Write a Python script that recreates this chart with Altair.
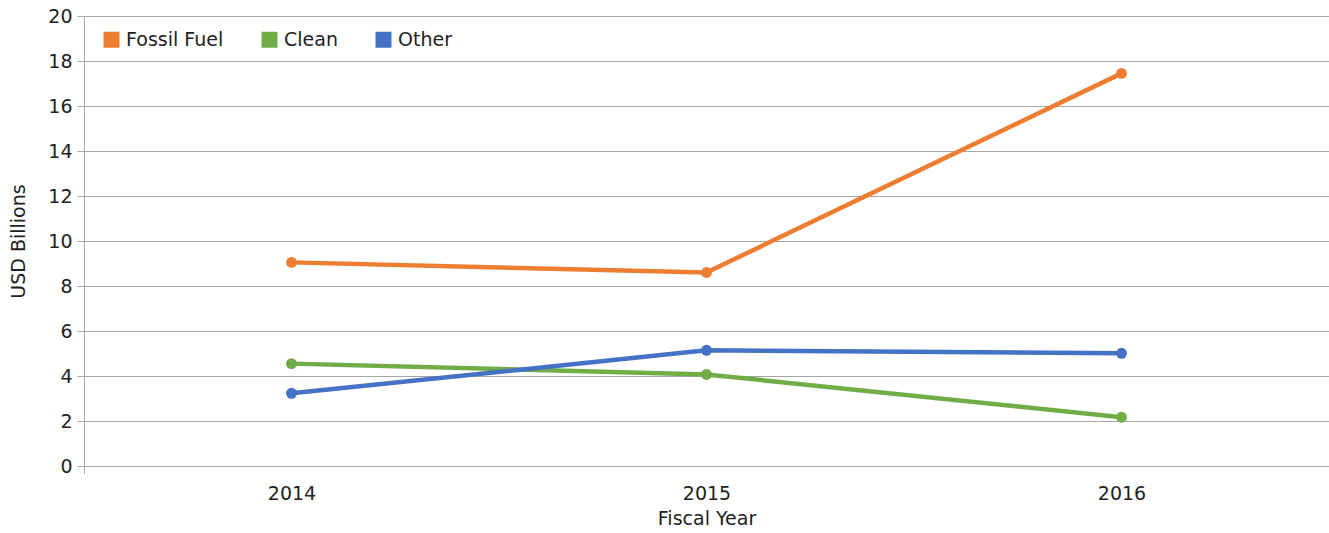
import altair as alt
import pandas as pd

years = ["2014", "2015", "2016"]
series = ["Fossil Fuel", "Clean", "Other"]
fossil = [9.05, 8.6, 17.45]
clean = [4.55, 4.07, 2.17]
other = [3.23, 5.14, 5.01]
colors = ["#ED7D31", "#70AD47", "#4472C4"]

rows = []
for name, vals in zip(series, [fossil, clean, other]):
    for y, v in zip(years, vals):
        rows.append({"year": y, "series": name, "value": v})
df = pd.DataFrame(rows)

FONT = "DejaVu Sans"
FS = 19

x = alt.X("year:N", title="Fiscal Year",
          scale=alt.Scale(paddingInner=0, paddingOuter=0),
          axis=alt.Axis(labelAngle=0, ticks=False, domain=False, grid=False,
                        labelFontSize=FS, labelPadding=18, titleFontSize=FS,
                        titleFontWeight="normal", titlePadding=6,
                        labelColor="#222222", titleColor="#222222",
                        labelFont=FONT, titleFont=FONT))
y = alt.Y("value:Q", title="USD Billions",
          scale=alt.Scale(domain=[0, 20], nice=False),
          axis=alt.Axis(values=list(range(0, 21, 2)), tickSize=7, tickColor="#a6a6a6",
                        domainColor="#a6a6a6", gridColor="#a6a6a6", gridWidth=1,
                        labelFontSize=FS, labelPadding=5, titleFontSize=FS,
                        titleFontWeight="normal", labelColor="#222222",
                        titleColor="#222222", labelFont=FONT, titleFont=FONT,
                        titleAngle=270, titleX=-66, titleY=225,
                        titleAlign="center", titleBaseline="middle"))
color = alt.Color("series:N", sort=series,
                  scale=alt.Scale(domain=series, range=colors),
                  legend=alt.Legend(title=None, orient="none", legendX=18, legendY=14,
                                    direction="horizontal", symbolType="square",
                                    symbolSize=256, symbolStrokeWidth=0,
                                    labelFontSize=FS, labelFont=FONT,
                                    labelColor="#222222", labelOffset=5,
                                    columnPadding=36))

lines = alt.Chart(df).mark_line(strokeWidth=4.5).encode(x=x, y=y, color=color,
                                                       order=alt.Order("year:N"))
points = alt.Chart(df).mark_circle(size=120, opacity=1).encode(x=x, y=y, color=color)
tick = alt.Chart(df).mark_rule(color="#a6a6a6").encode(
    x=alt.value(0.5), y=alt.value(450), y2=alt.value(458))

chart = alt.layer(tick, lines, points).properties(
    width=1245, height=450,
    autosize=alt.AutoSizeParams(type="none"),
    padding={"left": 84, "top": 16, "right": 0, "bottom": 67},
).configure_view(stroke=None).configure(background="white")

chart.save("out.html", embed_options={"renderer": "svg", "actions": False})
